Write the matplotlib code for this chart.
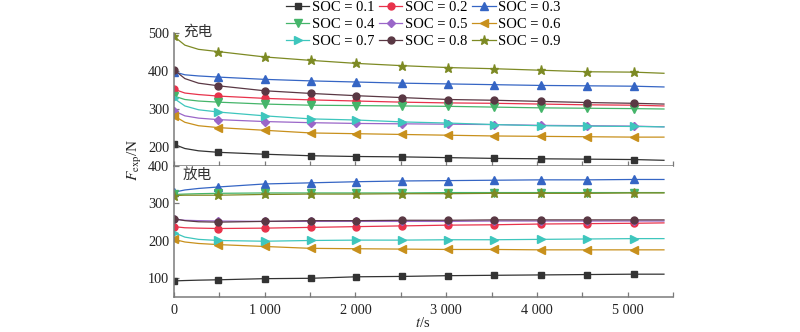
import numpy as np
import matplotlib
matplotlib.use('Agg')
import matplotlib.pyplot as plt
from matplotlib.ticker import MultipleLocator

plt.rcParams['font.family'] = ['Liberation Serif', 'Noto Sans CJK SC']
plt.rcParams['mathtext.fontset'] = 'stix'

# time points (s); markers are drawn on every point except the 2 early ones and the last one
t = [0, 120, 270, 490, 998, 1505, 2010, 2518, 3025, 3530, 4045, 4555, 5070, 5400]
mark_idx = [0, 3, 4, 5, 6, 7, 8, 9, 10, 11, 12]

soc_labels = ['SOC = 0.1', 'SOC = 0.2', 'SOC = 0.3', 'SOC = 0.4', 'SOC = 0.5',
              'SOC = 0.6', 'SOC = 0.7', 'SOC = 0.8', 'SOC = 0.9']
colors = ['#333333', '#e8324b', '#3565c4', '#45b56a', '#9a66c8',
          '#c8901c', '#3ec6bd', '#5a3844', '#7d8a24']
markers = ['s', 'o', '^', 'v', 'D', '<', '>', 'o', '*']
msizes = [4.5, 5, 5.5, 5.5, 4.5, 5.5, 5.5, 5, 6.5]

# charging (充电)
charge_01 = [207, 196, 190, 186, 181, 177, 175, 174, 172, 170, 169, 168, 167, 165]
charge_02 = [352, 342, 338, 334, 328, 324, 321, 318, 316, 315, 313, 311, 310, 308]
charge_03 = [398, 390, 387, 384, 378, 374, 371, 368, 366, 364, 362, 361, 360, 358]
charge_04 = [334, 325, 321, 318, 313, 310, 309, 308, 307, 305, 303, 302, 301, 300]
charge_05 = [295, 282, 276, 272, 267, 264, 262, 261, 260, 259, 257, 256, 255, 253]
charge_06 = [282, 265, 256, 251, 244, 237, 235, 233, 231, 229, 228, 227, 226, 226]
charge_07 = [328, 308, 298, 292, 282, 274, 271, 266, 263, 259, 256, 255, 254, 253]
charge_08 = [403, 380, 368, 361, 348, 341, 335, 330, 325, 323, 320, 317, 315, 313]
charge_09 = [491, 468, 457, 451, 437, 428, 420, 414, 409, 406, 402, 398, 397, 394]

# discharging (放电)
dis_01 = [93, 94, 95, 96, 99, 100, 104, 105, 107, 108, 109, 110, 111, 111]
dis_02 = [238, 235, 234, 233, 234, 236, 238, 240, 242, 243, 245, 246, 247, 248]
dis_03 = [330, 336, 340, 344, 352, 355, 358, 360, 361, 362, 363, 363, 364, 364]
dis_04 = [324, 325, 326, 327, 328, 328, 328, 328, 329, 329, 329, 329, 329, 329]
dis_05 = [258, 255, 254, 253, 252, 252, 252, 252, 252, 253, 253, 253, 253, 253]
dis_06 = [204, 197, 193, 190, 185, 180, 179, 178, 177, 177, 176, 176, 176, 176]
dis_07 = [222, 210, 204, 201, 199, 201, 202, 202, 203, 203, 204, 205, 206, 206]
dis_08 = [259, 254, 251, 250, 252, 254, 254, 255, 255, 256, 256, 256, 256, 256]
dis_09 = [321, 322, 322, 322, 324, 325, 325, 326, 326, 327, 327, 327, 328, 328]

charge = [charge_01, charge_02, charge_03, charge_04, charge_05,
          charge_06, charge_07, charge_08, charge_09]
discharge = [dis_01, dis_02, dis_03, dis_04, dis_05, dis_06, dis_07, dis_08, dis_09]

xticks = [0, 1000, 2000, 3000, 4000, 5000]
xtick_labels = ['0', '1 000', '2 000', '3 000', '4 000', '5 000']

fig = plt.figure(figsize=(8, 3.32), dpi=100)
ax1 = fig.add_axes([0.2175, 0.5, 0.6238, 0.4006])
ax2 = fig.add_axes([0.2175, 0.1054, 0.6238, 0.3946])

fs = 10.3
spine_col = '#7a7a7a'
for ax, data in [(ax1, charge), (ax2, discharge)]:
    for i in range(9):
        ax.plot(t, data[i], color=colors[i], lw=0.9, marker=markers[i], ms=msizes[i],
                markevery=mark_idx, mec=colors[i], label=soc_labels[i])
    ax.set_xlim(0, 5500)
    ax.set_xticks(xticks)
    ax.xaxis.set_minor_locator(MultipleLocator(500))
    ax.spines['top'].set_visible(False)
    ax.spines['right'].set_visible(False)
    for s in ['left', 'bottom']:
        ax.spines[s].set_color(spine_col)
        ax.spines[s].set_linewidth(1.1)
    ax.tick_params(which='both', direction='in', color=spine_col, labelsize=fs,
                   length=3.5, width=0.9, labelcolor='#222222')
    ax.tick_params(axis='y', pad=3.5)
    ax.tick_params(axis='x', pad=5)

ax1.set_ylim(150, 500)
ax1.set_yticks([200, 300, 400, 500])
ax1.set_xticklabels([])
ax2.set_ylim(50, 400)
ax2.set_yticks([100, 200, 300, 400])
ax2.set_xticklabels(xtick_labels)

fig.text(183 / 800, 1 - 32 / 332, '充电', fontsize=10.5,
         family='Noto Sans CJK SC', va='center', ha='left', color='#333333')
fig.text(183 / 800, 1 - 175 / 332, '放电', fontsize=10.5,
         family='Noto Sans CJK SC', va='center', ha='left', color='#333333')

fig.text(135 / 800, 1 - 160 / 332, r'$F_{\rm exp}$/N', rotation=90, ha='center',
         va='center', fontsize=11, color='#222222')
fig.text(423 / 800, 1 - 323 / 332, r'$t$/s', ha='center', va='center', fontsize=10.5,
         color='#222222')

h, l = ax1.get_legend_handles_labels()
order = [0, 3, 6, 1, 4, 7, 2, 5, 8]
fig.legend([h[k] for k in order], [l[k] for k in order], ncol=3, frameon=False,
           loc='upper left', bbox_to_anchor=(286 / 800, 0.997), fontsize=10.5,
           handlelength=1.6, handletextpad=0.15, columnspacing=0.35,
           labelspacing=0.25, borderpad=0, borderaxespad=0)

fig.savefig('out.png', dpi=100)
